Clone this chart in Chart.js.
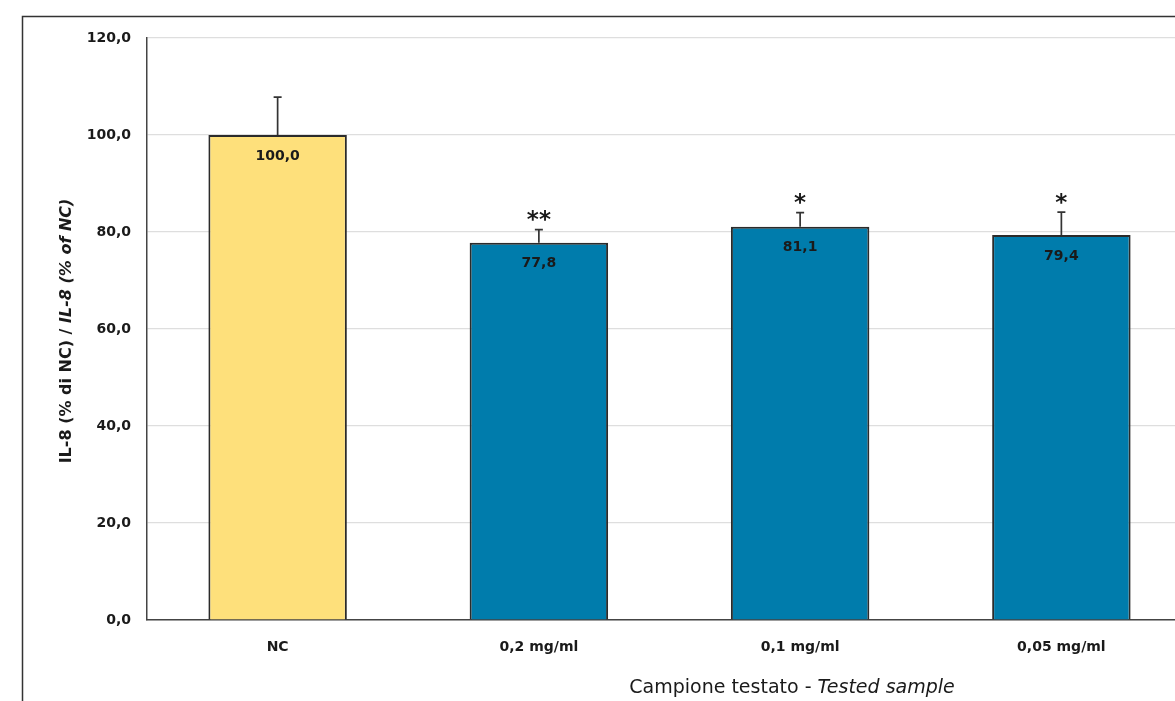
<!DOCTYPE html>
<html>
<head>
<meta charset="utf-8">
<script src="https://cdn.jsdelivr.net/npm/chart.js@4"></script>
<style>
  html, body { margin: 0; padding: 0; background: #fff; overflow: hidden; }
  canvas { display: block; }
</style>
</head>
<body>
<canvas id="myChart" width="1200" height="701"></canvas>
<script>
const categories = ['NC', '0,2 mg/ml', '0,1 mg/ml', '0,05 mg/ml'];
const values = [100.0, 77.8, 81.1, 79.4];
const errors = [7.8, 2.7, 2.9, 4.7];
const stars = ['', '**', '*', '*'];
const yTicks = [0, 20, 40, 60, 80, 100, 120];

const colors = ['#FEE07B', '#007CAC', '#007CAC', '#007CAC'];
const fontFamily = '"DejaVu Sans", sans-serif';
const fmt = v => v.toFixed(1).replace('.', ',');

const ctx = document.getElementById('myChart');

// frame, error bars, value labels, stars, axis titles
const extras = {
  id: 'extras',
  beforeDraw(chart) {
    const c = chart.ctx;
    c.save();
    c.strokeStyle = '#333';
    c.lineWidth = 1.5;
    c.beginPath();
    c.moveTo(22.5, 701);
    c.lineTo(22.5, 16.5);
    c.lineTo(chart.width, 16.5);
    c.stroke();
    c.restore();
  },
  afterDatasetsDraw(chart) {
    const c = chart.ctx;
    const y = chart.scales.y;
    const meta = chart.getDatasetMeta(0);
    c.save();
    meta.data.forEach((bar, i) => {
      const top = y.getPixelForValue(values[i] + errors[i]);
      c.strokeStyle = '#333';
      c.lineWidth = 1.7;
      c.beginPath();
      c.moveTo(bar.x, bar.y);
      c.lineTo(bar.x, top);
      c.moveTo(bar.x - 4, top);
      c.lineTo(bar.x + 4, top);
      c.stroke();

      c.fillStyle = '#1a1a1a';
      c.font = 'bold 14px ' + fontFamily;
      c.textAlign = 'center';
      c.textBaseline = 'middle';
      c.fillText(fmt(values[i]), bar.x, bar.y + 21);

      if (stars[i]) {
        c.font = 'bold 23px ' + fontFamily;
        c.textBaseline = 'alphabetic';
        const m = c.measureText(stars[i]);
        const off = (m.actualBoundingBoxAscent - m.actualBoundingBoxDescent) / 2;
        c.fillText(stars[i], bar.x, top - 14 + off);
      }
    });

    // y title, second half italic
    c.fillStyle = '#1a1a1a';
    c.textBaseline = 'middle';
    const p1 = 'IL-8 (% di NC) / ';
    const p2 = 'IL-8 (% of NC)';
    const f1 = 'bold 16px ' + fontFamily;
    const f2 = 'italic bold 16px ' + fontFamily;
    c.font = f1; const w1 = c.measureText(p1).width;
    c.font = f2; const w2 = c.measureText(p2).width;
    c.save();
    c.translate(67, 331);
    c.rotate(-Math.PI / 2);
    c.textAlign = 'left';
    c.font = f1; c.fillText(p1, -(w1 + w2) / 2, 0);
    c.font = f2; c.fillText(p2, -(w1 + w2) / 2 + w1, 0);
    c.restore();

    // x title
    const q1 = 'Campione testato - ';
    const q2 = 'Tested sample';
    const g1 = '19px ' + fontFamily;
    const g2 = 'italic 19px ' + fontFamily;
    c.font = g1; const v1 = c.measureText(q1).width;
    c.font = g2; const v2 = c.measureText(q2).width;
    const cx = 792;
    c.textAlign = 'left';
    c.font = g1; c.fillText(q1, cx - (v1 + v2) / 2, 688);
    c.font = g2; c.fillText(q2, cx - (v1 + v2) / 2 + v1, 688);
    c.restore();
  }
};

new Chart(ctx, {
  type: 'bar',
  data: {
    labels: categories,
    datasets: [{
      data: values,
      backgroundColor: colors,
      borderColor: '#2b2b2b',
      borderWidth: 2,
      barPercentage: 0.53,
      categoryPercentage: 1.0
    }]
  },
  options: {
    responsive: false,
    animation: false,
    layout: { padding: { left: 87, top: 38, right: 8, bottom: 0 } },
    plugins: {
      legend: { display: false },
      tooltip: { enabled: false }
    },
    scales: {
      x: {
        afterFit: s => { s.height = 81; },
        grid: { display: false, drawTicks: false },
        border: { color: '#444', width: 1.5 },
        ticks: {
          padding: 19,
          color: '#1a1a1a',
          font: { family: fontFamily, size: 14, weight: 'bold' }
        }
      },
      y: {
        min: 0,
        max: 120,
        afterFit: s => { s.width = 60; },
        afterBuildTicks: s => { s.ticks = yTicks.map(v => ({ value: v })); },
        grid: { color: '#dedede', lineWidth: 1.2, drawTicks: false },
        border: { color: '#444', width: 1.5 },
        ticks: {
          padding: 16,
          color: '#1a1a1a',
          font: { family: fontFamily, size: 14, weight: 'bold' },
          callback: v => fmt(v)
        }
      }
    }
  },
  plugins: [extras]
});
</script>
</body>
</html>
